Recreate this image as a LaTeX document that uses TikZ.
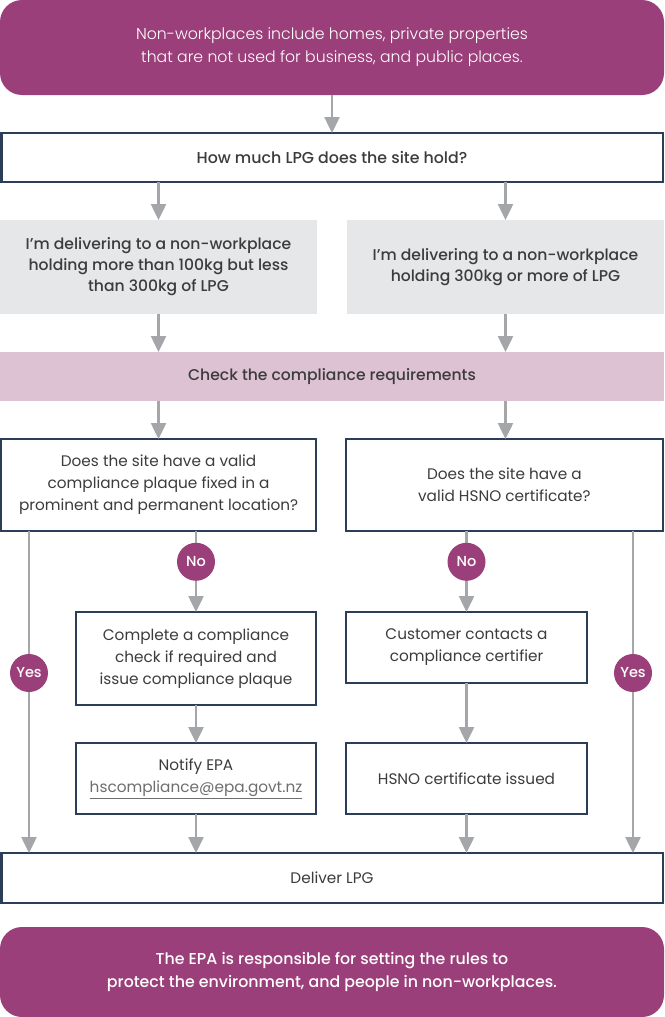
\documentclass[tikz,border=0pt]{standalone}
\usepackage{fontspec}
\setmainfont{Poppins}[BoldFont={Poppins Medium}]
\newfontfamily\lightf{Poppins Light}
\usetikzlibrary{arrows.meta}
\definecolor{epapurple}{HTML}{9B3F7A}
\definecolor{navy}{HTML}{2B3D57}
\definecolor{arrowgray}{HTML}{A5A6A9}
\definecolor{graybox}{HTML}{E6E7E8}
\definecolor{pinkbox}{HTML}{DCC2D2}
\definecolor{textdark}{HTML}{3C3C3C}
\definecolor{linkgray}{HTML}{6E6E6E}
\begin{document}
\begin{tikzpicture}[x=1pt,y=-1pt,
  base/.style={align=center, inner sep=0pt, outer sep=0pt, text=textdark,
    font=\fontsize{15.3}{22}\selectfont},
  banner/.style={base, fill=epapurple, rounded corners=22pt, text=white,
    font=\lightf\fontsize{15.7}{23}\selectfont},
  bbanner/.style={base, fill=epapurple, rounded corners=22pt, text=white,
    font=\bfseries\fontsize{15.8}{23}\selectfont},
  qbox/.style={base, draw=navy, line width=2.5pt, fill=white},
  hbox/.style={qbox, font=\bfseries\fontsize{15.8}{22}\selectfont},
  gbox/.style={base, fill=graybox, font=\bfseries\fontsize{15.6}{21}\selectfont},
  pbox/.style={base, fill=pinkbox, font=\bfseries\fontsize{15.6}{21}\selectfont},
  arr/.style={draw=arrowgray, line width=2.5pt, -{Triangle[width=15pt,length=16pt]}},
  tag/.style={circle, fill=epapurple, text=white, minimum size=38pt, inner sep=0pt,
    font=\bfseries\fontsize{14.5}{14.5}\selectfont}
]
\useasboundingbox (0,0) rectangle (664,1017);

\node[banner, minimum width=664pt, minimum height=95pt] (top) at (332,47.5)
  {Non-workplaces include homes, private properties\\that are not used for business, and public places.};
\node[hbox, minimum width=661.5pt, minimum height=49pt] (how) at (332,157.5)
  {How much LPG does the site hold?};
\node[gbox, minimum width=317pt, minimum height=94pt] (g1) at (158.5,267)
  {I’m delivering to a non-workplace\\holding more than 100kg but less\\than 300kg of LPG};
\node[gbox, minimum width=317pt, minimum height=94pt] (g2) at (505.5,267)
  {I’m delivering to a non-workplace\\holding 300kg or more of LPG};
\node[pbox, minimum width=664pt, minimum height=49pt] (chk) at (332,376.5)
  {Check the compliance requirements};
\node[qbox, minimum width=314.75pt, minimum height=92pt] (q1) at (158.6,485)
  {Does the site have a valid\\compliance plaque fixed in a\\prominent and permanent location?};
\node[qbox, minimum width=316.75pt, minimum height=92pt] (q2) at (504.4,485)
  {Does the site have a\\valid HSNO certificate?};
\node[qbox, minimum width=240pt, minimum height=93pt] (c1) at (196,658.5)
  {Complete a compliance\\check if required and\\issue compliance plaque};
\node[qbox, minimum width=241pt, minimum height=71pt] (c2) at (466.5,647.5)
  {Customer contacts a\\compliance certifier};
\node[qbox, minimum width=240pt, minimum height=71pt] (n1) at (196,778.5)
  {Notify EPA\\{\color{linkgray}\underline{hscompliance@epa.govt.nz}}};
\node[qbox, minimum width=241pt, minimum height=71pt] (n2) at (466.5,778.5)
  {HSNO certificate issued};
\node[qbox, minimum width=661.5pt, minimum height=50pt] (del) at (332,878)
  {Deliver LPG};
\node[bbanner, minimum width=664pt, minimum height=90pt] (bot) at (332,972)
  {The EPA is responsible for setting the rules to\\protect the environment, and people in non-workplaces.};

\coordinate (yl) at (29,0);
\coordinate (yr) at (633,0);

\draw[arr] (top.south) -- (how.north);
\draw[arr] (how.south -| g1.north) -- (g1.north);
\draw[arr] (how.south -| g2.north) -- (g2.north);
\draw[arr] (g1.south) -- (chk.north -| g1.south);
\draw[arr] (g2.south) -- (chk.north -| g2.south);
\draw[arr] (chk.south -| g1.south) -- (q1.north -| g1.south);
\draw[arr] (chk.south -| g2.south) -- (q2.north -| g2.south);
\draw[arr] (q1.south -| c1.north) -- (c1.north) node[tag, pos=0.38] (no1) {No};
\draw[arr] (q2.south -| c2.north) -- (c2.north) node[tag, pos=0.38] (no2) {No};
\draw[arr] (q1.south -| yl) -- (del.north -| yl) node[tag, pos=0.441] (yes1) {Yes};
\draw[arr] (q2.south -| yr) -- (del.north -| yr) node[tag, pos=0.441] (yes2) {Yes};
\draw[arr] (c1.south) -- (n1.north);
\draw[arr] (c2.south) -- (n2.north);
\draw[arr] (n1.south) -- (del.north -| n1.south);
\draw[arr] (n2.south) -- (del.north -| n2.south);
\end{tikzpicture}
\end{document}
